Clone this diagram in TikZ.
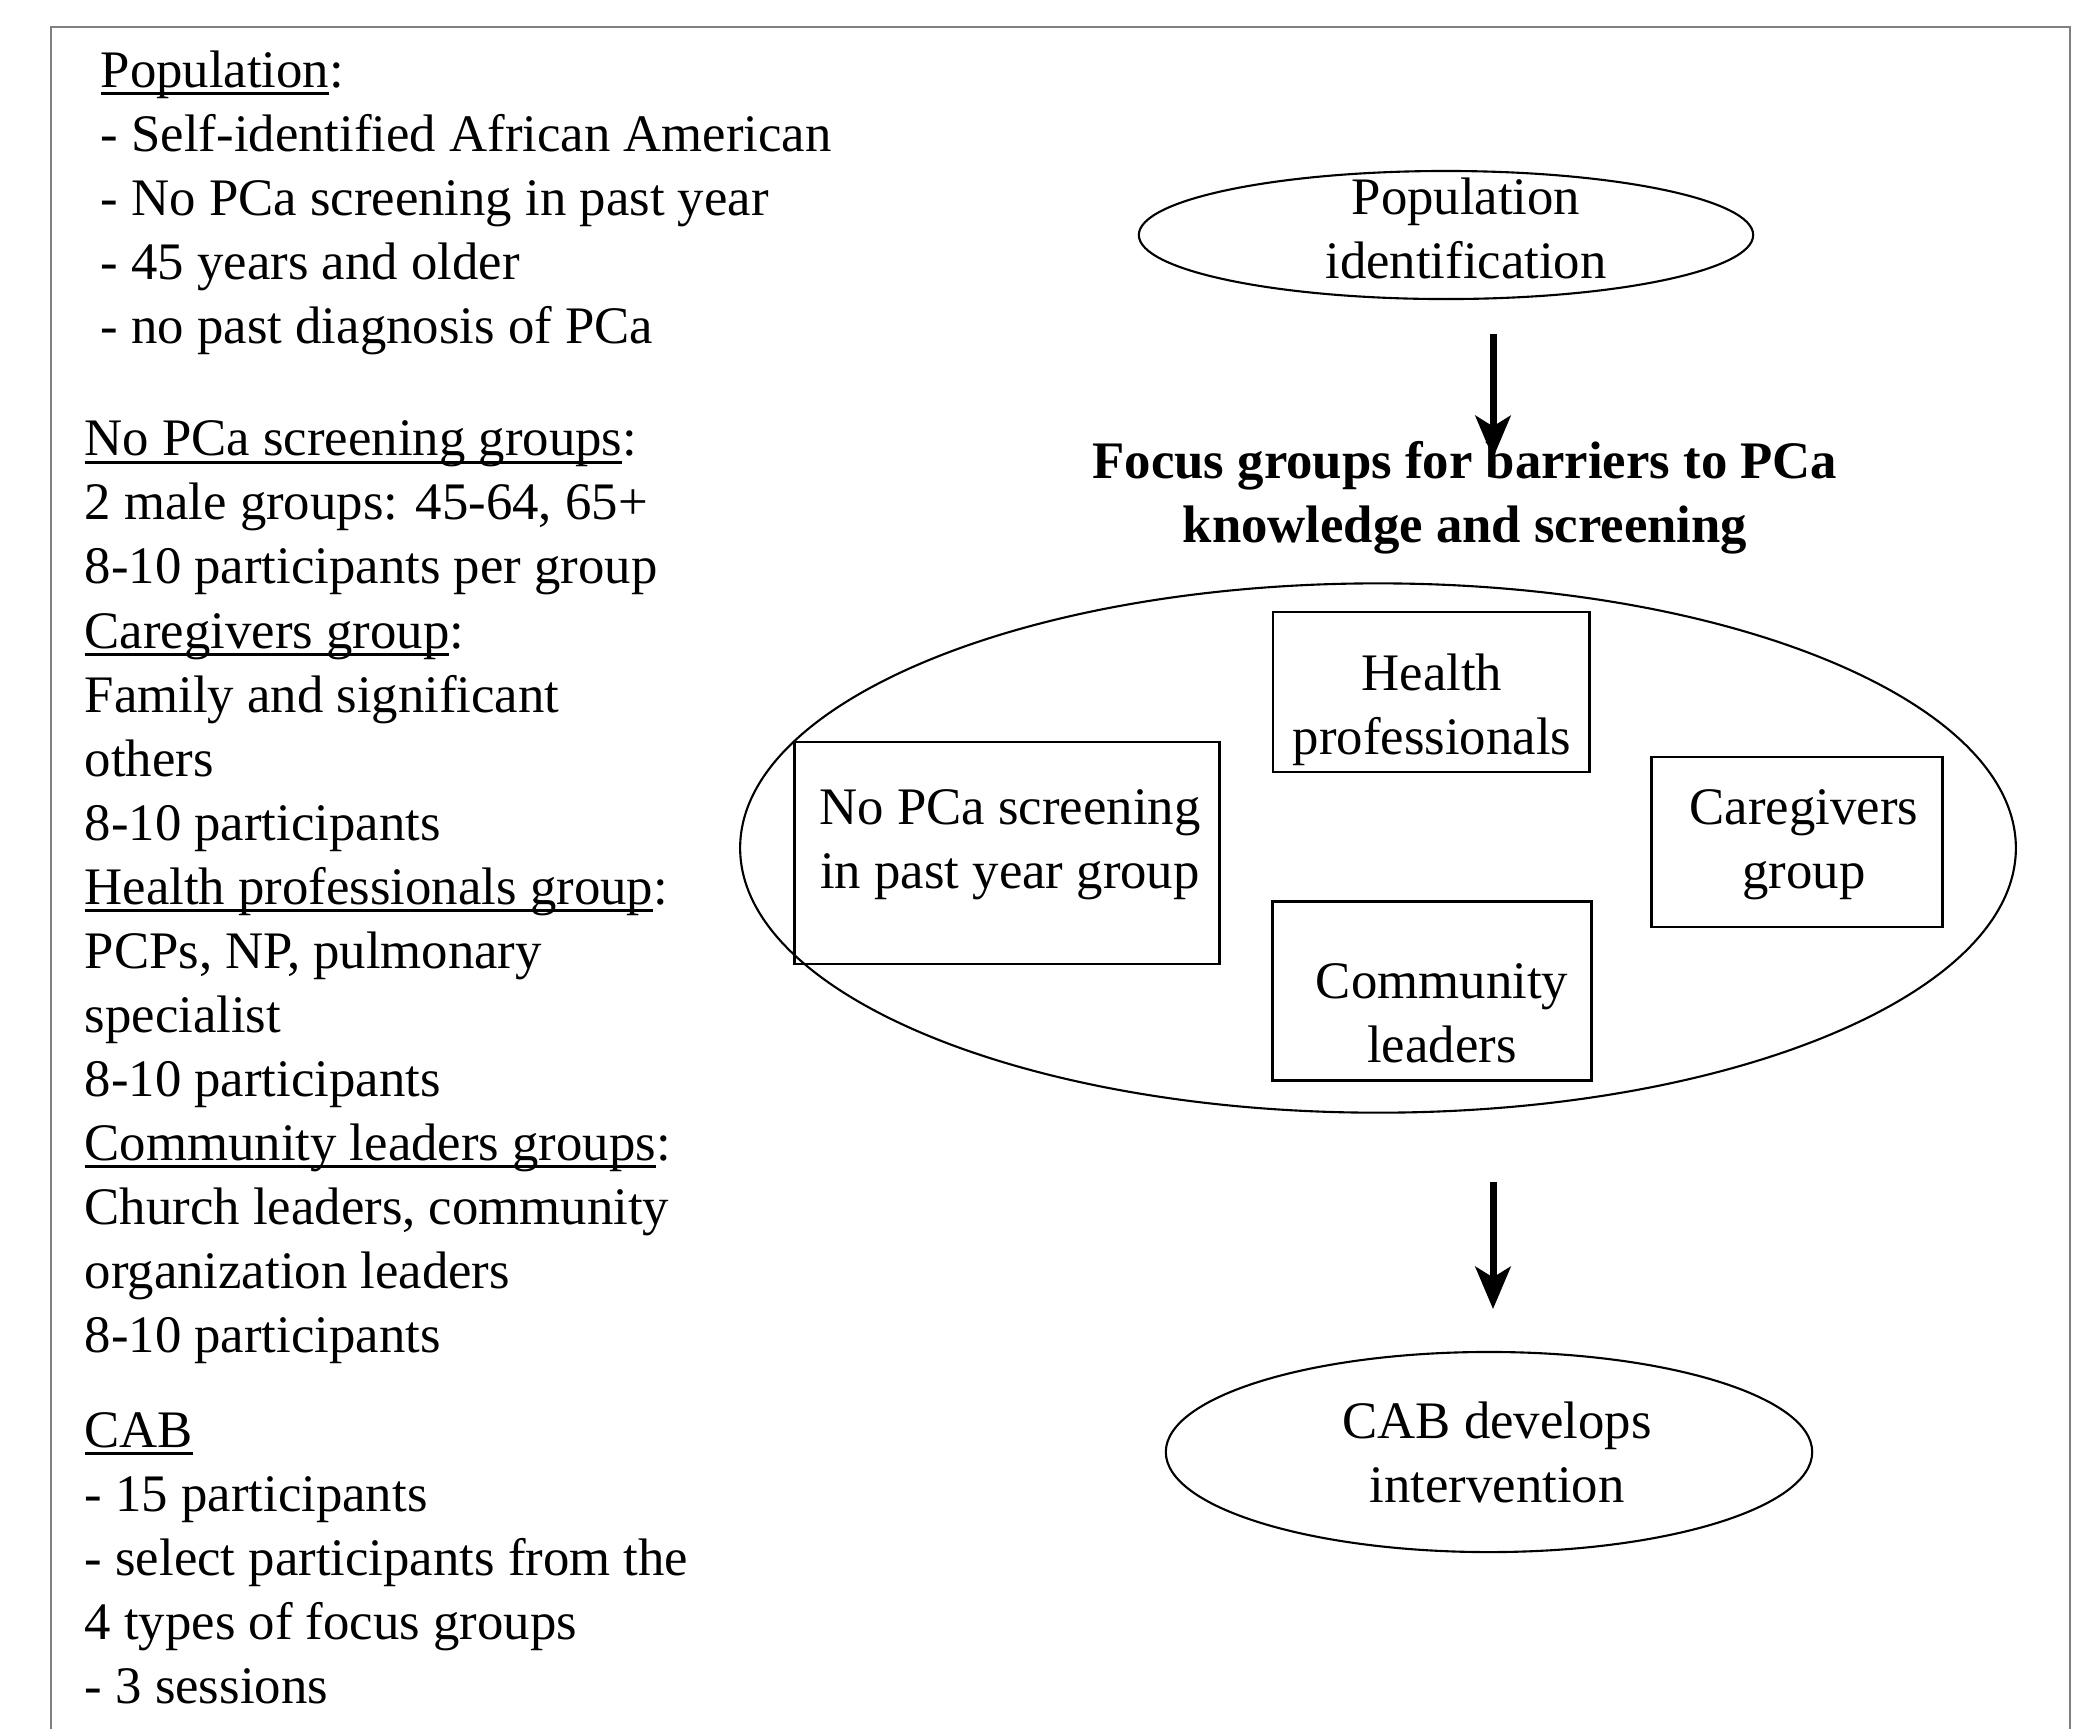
\documentclass[tikz,border=0pt]{standalone}
\usepackage{fontspec}
\setmainfont{Liberation Serif}
\usetikzlibrary{positioning, shapes.geometric, arrows.meta}

\newcommand{\uword}[1]{\setbox0\hbox{#1}\rlap{\rule[-2.2pt]{\wd0}{0.8pt}}\box0}

\begin{document}
\begin{tikzpicture}[x=0.01cm, y=-0.01cm,
	every node/.style={font=\fontsize{15}{18.2}\selectfont, inner sep=0pt},
	info/.style={align=left, anchor=base west},
	label/.style={align=center},
	oval/.style={draw, ellipse, line width=0.6pt},
	group/.style={draw, rectangle, line width=0.8pt},
	flow/.style={line width=2pt, -{Stealth[length=12pt, width=10pt, inset=3pt]}}
]
	\useasboundingbox (0,0) rectangle (2094,1729);
	\draw[gray, line width=0.8pt] (51,1729) -- (51,27) -- (2070,27) -- (2070,1729);

	% left column (anchored at the baseline of the last line)
	\node[info] (popinfo) at (100,343) {\uword{Population}:\\- Self-identified African American\\- No PCa screening in past year\\- 45 years and older\\- no past diagnosis of PCa};
	\node[info] (groupinfo) at (84,1352) {\uword{No PCa screening groups}:\\2 male groups: 45-64, 65+\\8-10 participants per group\\\uword{Caregivers group}:\\Family and significant\\others\\8-10 participants\\\uword{Health professionals group}:\\PCPs, NP, pulmonary\\specialist\\8-10 participants\\\uword{Community leaders groups}:\\Church leaders, community\\organization leaders\\8-10 participants};
	\node[info] (cabinfo) at (84,1703) {\uword{CAB}\\- 15 participants\\- select participants from the\\4 types of focus groups\\- 3 sessions};

	% right column
	\node[oval, minimum width=6.14cm, minimum height=1.28cm] (popell) at (1446,235) {};
	\node[label] (popid) at (1466,228) {Population\\identification};

	\node[label, font=\fontsize{15}{18.2}\selectfont\bfseries] (focus) at (1465,498) {Focus groups for barriers to PCa\\knowledge and screening};

	\node[oval, minimum width=12.75cm, minimum height=5.29cm] (focusell) at (1378,848) {};
	\node[group, minimum width=3.16cm, minimum height=1.60cm] (health) at (1431,692) {};
	\node[group, minimum width=4.24cm, minimum height=2.22cm] (noscreen) at (1007,853) {};
	\node[group, minimum width=2.91cm, minimum height=1.70cm] (care) at (1797,842) {};
	\node[group, minimum width=3.19cm, minimum height=1.79cm] (community) at (1432,991) {};
	\node[label] (healthtxt) at (1432,710) {Health\\professionals};
	\node[label] (noscreentxt) at (1010,845) {No PCa screening\\in past year group};
	\node[label] (caretxt) at (1804,845) {Caregivers\\group};
	\node[label] (communitytxt) at (1442,1013) {Community\\leaders};

	\node[oval, minimum width=6.46cm, minimum height=2.00cm] (cabell) at (1489,1452) {};
	\node[label] (cabtxt) at (1497,1452) {CAB develops\\intervention};

	\coordinate (a1) at (1493,334);
	\coordinate (a2) at (1493,458);
	\coordinate (b1) at (1493,1182);
	\coordinate (b2) at (1493,1309);
	\draw[flow] (a1) -- (a2);
	\draw[flow] (b1) -- (b2);
\end{tikzpicture}
\end{document}
